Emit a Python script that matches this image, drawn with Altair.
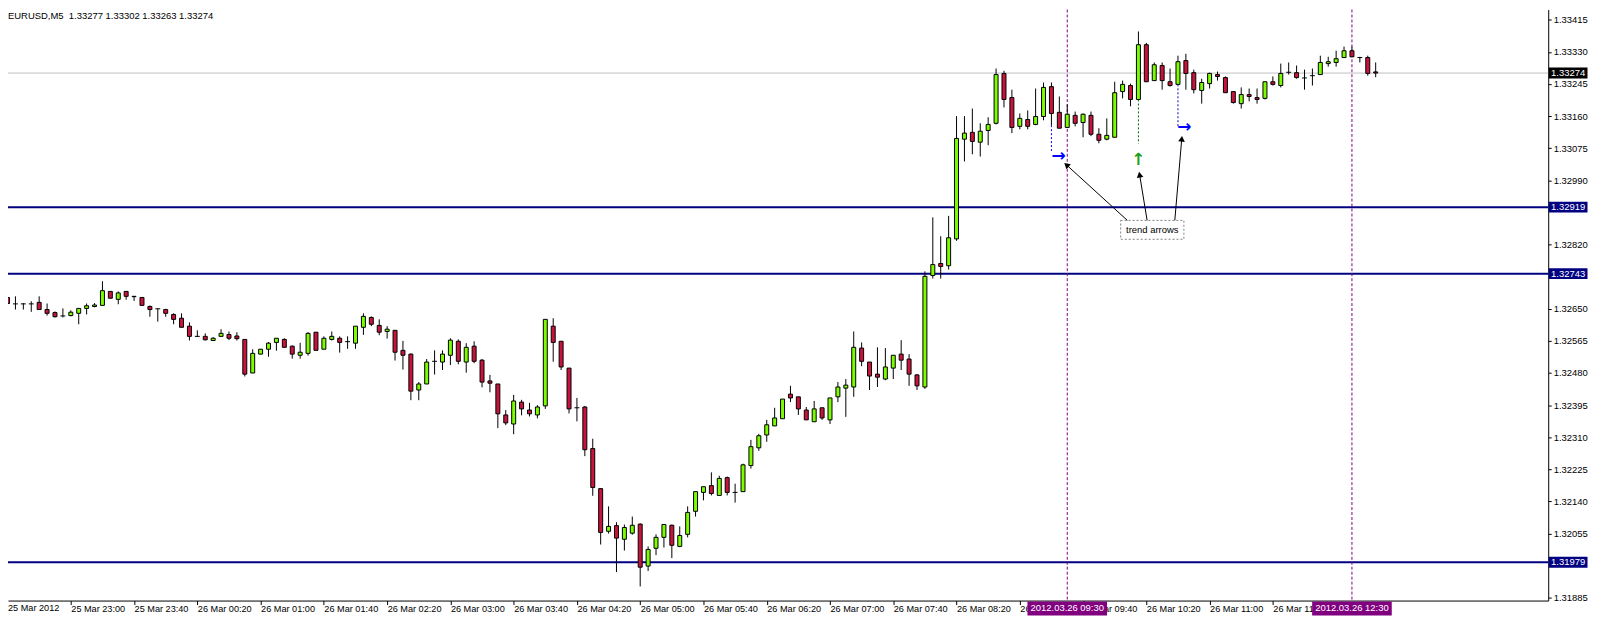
#Imports
import altair as alt
import pandas as pd

#Dados (EURUSD M5, uma vela por item, a partir de 25 Mar 22:20)
opens = [
    1.32680, 1.32663, 1.32663, 1.32663, 1.32667, 1.32648, 1.32640, 1.32631, 1.32632, 1.32638,
    1.32651, 1.32656, 1.32659, 1.32696, 1.32675, 1.32696, 1.32683, 1.32680, 1.32656, 1.32650,
    1.32648, 1.32635, 1.32625, 1.32604, 1.32577, 1.32577, 1.32566, 1.32577, 1.32582, 1.32578,
    1.32569, 1.32480, 1.32530, 1.32543, 1.32561, 1.32569, 1.32551, 1.32527, 1.32532, 1.32588,
    1.32543, 1.32569, 1.32572, 1.32563, 1.32559, 1.32601, 1.32627, 1.32606, 1.32590, 1.32593,
    1.32540, 1.32530, 1.32435, 1.32451, 1.32511, 1.32509, 1.32527, 1.32564, 1.32509, 1.32551,
    1.32514, 1.32459, 1.32451, 1.32369, 1.32345, 1.32403, 1.32382, 1.32369, 1.32393, 1.32604,
    1.32564, 1.32493, 1.32388, 1.32390, 1.32280, 1.32174, 1.32061, 1.32076, 1.32040, 1.32056,
    1.32080, 1.31969, 1.32016, 1.32045, 1.32077, 1.32021, 1.32053, 1.32114, 1.32164, 1.32182,
    1.32156, 1.32203, 1.32164, 1.32166, 1.32235, 1.32282, 1.32316, 1.32340, 1.32359, 1.32424,
    1.32417, 1.32382, 1.32351, 1.32388, 1.32356, 1.32417, 1.32440, 1.32443, 1.32546, 1.32509,
    1.32477, 1.32464, 1.32493, 1.32530, 1.32517, 1.32475, 1.32443, 1.32738, 1.32770, 1.32764,
    1.32835, 1.33099, 1.33117, 1.33091, 1.33122, 1.33141, 1.33273, 1.33209, 1.33133, 1.33151,
    1.33138, 1.33159, 1.33238, 1.33170, 1.33130, 1.33162, 1.33143, 1.33162, 1.33112, 1.33099,
    1.33104, 1.33225, 1.33241, 1.33204, 1.33349, 1.33254, 1.33294, 1.33251, 1.33244, 1.33307,
    1.33275, 1.33228, 1.33246, 1.33270, 1.33262, 1.33225, 1.33193, 1.33217, 1.33209, 1.33207,
    1.33251, 1.33241, 1.33276, 1.33275, 1.33261, 1.33267, 1.33270, 1.33299, 1.33302, 1.33315,
    1.33333, 1.33315, 1.33315, 1.33277,
]
highs = [
    1.32682, 1.32683, 1.32665, 1.32670, 1.32683, 1.32664, 1.32643, 1.32651, 1.32646, 1.32652,
    1.32664, 1.32665, 1.32723, 1.32697, 1.32696, 1.32697, 1.32683, 1.32680, 1.32659, 1.32651,
    1.32650, 1.32638, 1.32638, 1.32614, 1.32593, 1.32585, 1.32575, 1.32596, 1.32590, 1.32588,
    1.32569, 1.32543, 1.32543, 1.32562, 1.32572, 1.32572, 1.32553, 1.32560, 1.32588, 1.32588,
    1.32577, 1.32590, 1.32577, 1.32577, 1.32604, 1.32638, 1.32630, 1.32622, 1.32604, 1.32593,
    1.32565, 1.32532, 1.32456, 1.32517, 1.32540, 1.32540, 1.32572, 1.32569, 1.32559, 1.32564,
    1.32517, 1.32475, 1.32451, 1.32382, 1.32422, 1.32409, 1.32401, 1.32395, 1.32622, 1.32625,
    1.32564, 1.32493, 1.32414, 1.32393, 1.32306, 1.32174, 1.32127, 1.32085, 1.32079, 1.32100,
    1.32082, 1.32021, 1.32053, 1.32079, 1.32079, 1.32074, 1.32127, 1.32166, 1.32179, 1.32217,
    1.32208, 1.32206, 1.32187, 1.32240, 1.32303, 1.32319, 1.32356, 1.32388, 1.32411, 1.32446,
    1.32417, 1.32390, 1.32406, 1.32388, 1.32414, 1.32456, 1.32464, 1.32590, 1.32561, 1.32509,
    1.32548, 1.32546, 1.32527, 1.32567, 1.32530, 1.32477, 1.32749, 1.32892, 1.32842, 1.32896,
    1.33160, 1.33160, 1.33180, 1.33141, 1.33157, 1.33286, 1.33280, 1.33230, 1.33167, 1.33175,
    1.33233, 1.33249, 1.33249, 1.33212, 1.33191, 1.33172, 1.33167, 1.33172, 1.33128, 1.33154,
    1.33251, 1.33254, 1.33246, 1.33384, 1.33354, 1.33302, 1.33302, 1.33286, 1.33320, 1.33325,
    1.33283, 1.33259, 1.33275, 1.33278, 1.33265, 1.33225, 1.33236, 1.33233, 1.33233, 1.33251,
    1.33265, 1.33299, 1.33302, 1.33294, 1.33283, 1.33286, 1.33320, 1.33317, 1.33333, 1.33344,
    1.33344, 1.33317, 1.33320, 1.33302,
]
lows = [
    1.32662, 1.32648, 1.32648, 1.32642, 1.32647, 1.32632, 1.32627, 1.32627, 1.32630, 1.32609,
    1.32635, 1.32654, 1.32658, 1.32677, 1.32662, 1.32674, 1.32671, 1.32659, 1.32629, 1.32616,
    1.32629, 1.32609, 1.32601, 1.32566, 1.32576, 1.32566, 1.32565, 1.32576, 1.32567, 1.32566,
    1.32471, 1.32480, 1.32530, 1.32523, 1.32539, 1.32548, 1.32518, 1.32518, 1.32526, 1.32540,
    1.32543, 1.32566, 1.32534, 1.32544, 1.32544, 1.32581, 1.32604, 1.32580, 1.32571, 1.32513,
    1.32489, 1.32408, 1.32408, 1.32451, 1.32476, 1.32488, 1.32501, 1.32503, 1.32481, 1.32506,
    1.32442, 1.32429, 1.32334, 1.32342, 1.32318, 1.32368, 1.32365, 1.32360, 1.32385, 1.32510,
    1.32488, 1.32373, 1.32352, 1.32260, 1.32155, 1.32026, 1.32055, 1.31953, 1.32010, 1.32052,
    1.31915, 1.31956, 1.31998, 1.32018, 1.31990, 1.32019, 1.32045, 1.32100, 1.32143, 1.32156,
    1.32156, 1.32156, 1.32137, 1.32166, 1.32227, 1.32274, 1.32298, 1.32340, 1.32359, 1.32403,
    1.32369, 1.32356, 1.32351, 1.32356, 1.32345, 1.32403, 1.32364, 1.32417, 1.32498, 1.32435,
    1.32443, 1.32461, 1.32464, 1.32488, 1.32446, 1.32435, 1.32438, 1.32730, 1.32730, 1.32754,
    1.32830, 1.33040, 1.33059, 1.33053, 1.33083, 1.33138, 1.33183, 1.33115, 1.33125, 1.33125,
    1.33136, 1.33149, 1.33136, 1.33128, 1.33130, 1.33133, 1.33104, 1.33107, 1.33088, 1.33096,
    1.33104, 1.33207, 1.33186, 1.33204, 1.33251, 1.33254, 1.33230, 1.33238, 1.33244, 1.33230,
    1.33220, 1.33193, 1.33233, 1.33254, 1.33222, 1.33193, 1.33180, 1.33199, 1.33193, 1.33204,
    1.33241, 1.33236, 1.33270, 1.33259, 1.33230, 1.33241, 1.33270, 1.33291, 1.33291, 1.33315,
    1.33317, 1.33302, 1.33267, 1.33263,
]
closes = [
    1.32664, 1.32663, 1.32663, 1.32663, 1.32648, 1.32638, 1.32629, 1.32631, 1.32641, 1.32651,
    1.32658, 1.32660, 1.32698, 1.32678, 1.32692, 1.32683, 1.32682, 1.32659, 1.32648, 1.32650,
    1.32638, 1.32622, 1.32601, 1.32577, 1.32577, 1.32568, 1.32572, 1.32585, 1.32572, 1.32571,
    1.32477, 1.32532, 1.32543, 1.32559, 1.32572, 1.32548, 1.32530, 1.32535, 1.32585, 1.32540,
    1.32572, 1.32577, 1.32561, 1.32563, 1.32604, 1.32630, 1.32609, 1.32588, 1.32596, 1.32535,
    1.32527, 1.32432, 1.32451, 1.32509, 1.32511, 1.32530, 1.32567, 1.32511, 1.32548, 1.32511,
    1.32456, 1.32453, 1.32372, 1.32348, 1.32406, 1.32385, 1.32372, 1.32390, 1.32622, 1.32561,
    1.32496, 1.32385, 1.32388, 1.32277, 1.32177, 1.32058, 1.32074, 1.32043, 1.32071, 1.32077,
    1.31966, 1.32013, 1.32045, 1.32079, 1.32024, 1.32050, 1.32111, 1.32166, 1.32179, 1.32161,
    1.32201, 1.32164, 1.32164, 1.32237, 1.32285, 1.32314, 1.32343, 1.32361, 1.32411, 1.32414,
    1.32385, 1.32356, 1.32385, 1.32361, 1.32414, 1.32443, 1.32448, 1.32548, 1.32511, 1.32472,
    1.32469, 1.32496, 1.32527, 1.32514, 1.32477, 1.32446, 1.32736, 1.32767, 1.32762, 1.32838,
    1.33101, 1.33115, 1.33093, 1.33120, 1.33138, 1.33270, 1.33204, 1.33130, 1.33154, 1.33133,
    1.33159, 1.33236, 1.33167, 1.33128, 1.33165, 1.33141, 1.33165, 1.33112, 1.33096, 1.33109,
    1.33222, 1.33244, 1.33204, 1.33349, 1.33251, 1.33296, 1.33254, 1.33241, 1.33304, 1.33273,
    1.33230, 1.33249, 1.33273, 1.33265, 1.33222, 1.33196, 1.33217, 1.33212, 1.33204, 1.33251,
    1.33244, 1.33273, 1.33276, 1.33262, 1.33261, 1.33267, 1.33302, 1.33304, 1.33312, 1.33333,
    1.33317, 1.33315, 1.33273, 1.33274,
]

#Rótulos do eixo de tempo (um a cada 8 velas; o de 12:20 fica sob a etiqueta roxa)
tick_bars = [0, 8, 16, 24, 32, 40, 48, 56, 64, 72, 80, 88, 96, 104, 112, 120, 128, 136, 144, 152, 160]
tick_labels = ["25 Mar 2012", "25 Mar 23:00", "25 Mar 23:40", "26 Mar 00:20", "26 Mar 01:00",
               "26 Mar 01:40", "26 Mar 02:20", "26 Mar 03:00", "26 Mar 03:40", "26 Mar 04:20",
               "26 Mar 05:00", "26 Mar 05:40", "26 Mar 06:20", "26 Mar 07:00", "26 Mar 07:40",
               "26 Mar 08:20", "26 Mar 09:00", "26 Mar 09:40", "26 Mar 10:20", "26 Mar 11:00",
               "26 Mar 11:40"]
#Preços do eixo (os que ficam sob as etiquetas azuis foram omitidos)
price_ticks = [1.33415, 1.33330, 1.33245, 1.33160, 1.33075, 1.32990, 1.32820,
               1.32650, 1.32565, 1.32480, 1.32395, 1.32310, 1.32225, 1.32140, 1.32055, 1.31885]

#Objetos do gráfico
level_prices = [1.32919, 1.32743, 1.31979]
bid_price = 1.33274
vline_bars = [134, 170]
vline_labels = ["2012.03.26 09:30", "2012.03.26 12:30"]
title_text = "EURUSD,M5\u00a0 1.33277 1.33302 1.33263 1.33274"

#Setas de tendência
drop_bars = [132, 143, 148]
drop_top = [1.33136, 1.33204, 1.33244]
drop_bottom = [1.33068, 1.33087, 1.33129]
drop_colors = ["#0000CD", "#006400", "#0000CD"]
arrow_bars = [132.9, 143.0, 148.8]
arrow_prices = [1.33055, 1.33043, 1.33130]
arrow_glyphs = ["→", "↑", "→"]
arrow_colors = ["#0000FF", "#1E9E1E", "#0000FF"]

#Caixa "trend arrows" e ponteiros
box_bars = [140.75, 148.75]
box_prices = [1.32834, 1.32884]
box_text = "trend arrows"
ptr_x1 = [141.6, 144.1, 147.6]
ptr_y1 = [1.32884, 1.32884, 1.32884]
ptr_x2 = [133.9, 143.15, 148.48]
ptr_y2 = [1.33031, 1.33005, 1.33100]
head_angles = [312, 350, 5]

GREEN = "#7CFC00"
RED = "#C8143C"
FONT = "Liberation Sans"

df = pd.DataFrame({"bar": list(range(len(opens))), "o": opens, "h": highs, "l": lows, "c": closes})
df["dir"] = ["up" if c > o else ("down" if c < o else "flat") for o, c in zip(opens, closes)]

xs = alt.Scale(domain=[0.6875, 194.1875], nice=False, zero=False)
ys = alt.Scale(domain=[1.318777, 1.334421], nice=False, zero=False)

label_js = "[" + ",".join("'" + t + "'" for t in tick_labels) + "][round(datum.value / 8)]"

x_axis = alt.Axis(values=tick_bars[1:], labelExpr=label_js, title=None, grid=False,
                  tickSize=4, tickColor="black", domainColor="black", labelColor="black",
                  labelAlign="left", labelBaseline="top", labelPadding=0,
                  labelFont=FONT, labelFontSize=9.2, labelOverlap=False, labelFlush=False)
y_axis = alt.Axis(orient="right", values=price_ticks, format=".5f", title=None, grid=False,
                  tickSize=3, tickColor="black", domainColor="black", labelColor="black",
                  labelPadding=2, labelFont=FONT, labelFontSize=9.5, labelOverlap=False,
                  labelFlush=False)


#Mesma escala e eixo em todas as camadas
def X(field):
    return alt.X(field, scale=xs, axis=x_axis)


def Y(field):
    return alt.Y(field, scale=ys, axis=y_axis)


#Linhas horizontais e verticais
bid = alt.Chart(pd.DataFrame({"p": [bid_price]})).mark_rule(color="#C0C0C0", strokeWidth=1).encode(
    y=Y("p:Q"))
levels = alt.Chart(pd.DataFrame({"p": level_prices})).mark_rule(color="#000080", strokeWidth=2).encode(
    y=Y("p:Q"))
vlines = alt.Chart(pd.DataFrame({"b": vline_bars})).mark_rule(
    color="#800080", strokeWidth=1, strokeDash=[3, 2]).encode(x=X("b:Q"))

#Velas
wicks = alt.Chart(df).mark_rule(color="black", strokeWidth=1).encode(
    x=X("bar:Q"), y=Y("l:Q"), y2="h:Q")
bodies = alt.Chart(df).transform_filter("datum.o != datum.c").mark_bar(
    width=4, stroke="black", strokeWidth=1).encode(
    x=X("bar:Q"), y=Y("o:Q"), y2="c:Q",
    color=alt.Color("dir:N", scale=alt.Scale(domain=["up", "down"], range=[GREEN, RED]), legend=None))
dojis = alt.Chart(df).transform_filter("datum.o == datum.c").transform_calculate(
    xa="datum.bar - 0.31", xb="datum.bar + 0.31").mark_rule(color="black", strokeWidth=1).encode(
    x=X("xa:Q"), x2="xb:Q", y=Y("o:Q"))

#Setas de tendência
drops = alt.Chart(pd.DataFrame({"b": drop_bars, "t": drop_top, "d": drop_bottom, "col": drop_colors})).mark_rule(
    strokeWidth=1, strokeDash=[2, 2]).encode(
    x=X("b:Q"), y=Y("t:Q"), y2="d:Q", color=alt.Color("col:N", scale=None))
arrows = alt.Chart(pd.DataFrame({"b": arrow_bars, "p": arrow_prices, "g": arrow_glyphs, "col": arrow_colors})).mark_text(
    font="DejaVu Sans", fontSize=17, fontWeight="bold", baseline="middle", align="center").encode(
    x=X("b:Q"), y=Y("p:Q"), text="g:N", color=alt.Color("col:N", scale=None))

#Caixa de texto com ponteiros
box = alt.Chart(pd.DataFrame({"x1": [box_bars[0]], "x2": [box_bars[1]], "y1": [box_prices[0]], "y2": [box_prices[1]]})).mark_rect(
    fill="white", stroke="#808080", strokeWidth=1, strokeDash=[2, 2]).encode(
    x=X("x1:Q"), x2="x2:Q", y=Y("y1:Q"), y2="y2:Q")
box_label = alt.Chart(pd.DataFrame({"b": [(box_bars[0] + box_bars[1]) / 2], "p": [(box_prices[0] + box_prices[1]) / 2], "t": [box_text]})).mark_text(
    font=FONT, fontSize=9.5, color="black", baseline="middle", align="center").encode(
    x=X("b:Q"), y=Y("p:Q"), text="t:N")
ptr_df = pd.DataFrame({"x1": ptr_x1, "y1": ptr_y1, "x2": ptr_x2, "y2": ptr_y2, "ang": head_angles})
pointers = alt.Chart(ptr_df).mark_rule(color="black", strokeWidth=1).encode(
    x=X("x1:Q"), x2="x2:Q", y=Y("y1:Q"), y2="y2:Q")
heads = alt.Chart(ptr_df).mark_point(shape="triangle-up", filled=True, size=45, color="black", opacity=1).encode(
    x=X("x2:Q"), y=Y("y2:Q"), angle=alt.Angle("ang:Q", scale=None))

#Etiquetas coloridas nos eixos
tag_df = pd.DataFrame({"p": level_prices + [bid_price],
                       "col": ["#000080", "#000080", "#000080", "#000000"]})
tag_df["t"] = [f"{p:.5f}" for p in tag_df["p"]]
price_tags = alt.Chart(tag_df).mark_point(
    shape="M-1,-0.28L1,-0.28L1,0.28L-1,0.28Z", size=1521, filled=True, opacity=1).encode(
    x=alt.value(1568), y=Y("p:Q"), color=alt.Color("col:N", scale=None))
price_tag_text = alt.Chart(tag_df).mark_text(
    font=FONT, fontSize=9.5, color="white", baseline="middle", align="center").encode(
    x=alt.value(1568), y=Y("p:Q"), text="t:N")
time_df = pd.DataFrame({"b": vline_bars, "t": vline_labels})
time_tags = alt.Chart(time_df).mark_point(
    shape="M-1,-0.175L1,-0.175L1,0.175L-1,0.175Z", size=6400, filled=True, opacity=1, color="#800080").encode(
    x=X("b:Q"), y=alt.value(602))
time_tag_text = alt.Chart(time_df).mark_text(
    font=FONT, fontSize=9.5, color="white", baseline="middle", align="center").encode(
    x=X("b:Q"), y=alt.value(602), text="t:N")

#Primeiro rótulo de data (na borda esquerda) e título
first_label = alt.Chart(pd.DataFrame({"t": [tick_labels[0]]})).mark_text(
    font=FONT, fontSize=9.2, color="black", baseline="top", align="left").encode(
    x=alt.value(0), y=alt.value(598), text="t:N")
title = alt.Chart(pd.DataFrame({"t": [title_text]})).mark_text(
    font=FONT, fontSize=9.5, color="black", baseline="top", align="left").encode(
    x=alt.value(0), y=alt.value(1), text="t:N")

chart = alt.layer(
    bid, levels, vlines, wicks, bodies, dojis, drops, arrows, box, box_label, pointers, heads,
    price_tags, price_tag_text, time_tags, time_tag_text, first_label, title
).properties(
    width=1548,
    height=594,
    autosize=alt.AutoSizeParams(type="none"),
    padding={"left": 0, "top": 0, "right": 41, "bottom": 20},
    background="white"
).configure_view(strokeWidth=0)

chart.save("out.html", embed_options={"renderer": "svg", "actions": False})
